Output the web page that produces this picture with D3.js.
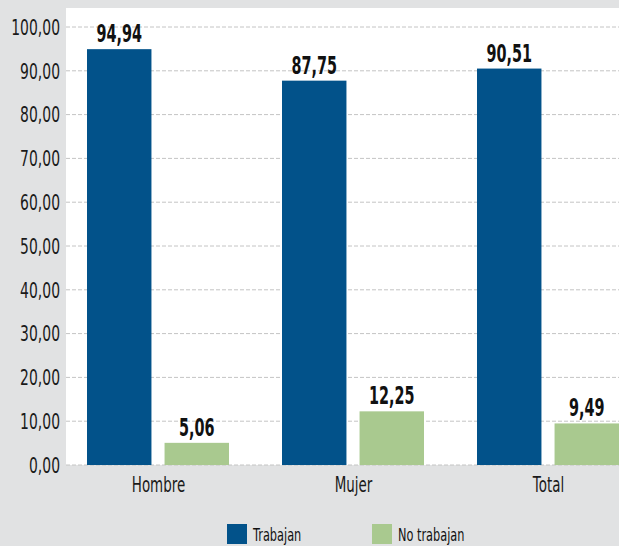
<!DOCTYPE html>
<html>
<head>
<meta charset="utf-8">
<script src="https://cdn.jsdelivr.net/npm/d3@7"></script>
<style>
  body { margin: 0; background: #e1e2e3; }
  svg text { font-family: "DejaVu Sans", sans-serif; }
</style>
</head>
<body>
<svg id="chart" width="619" height="546"></svg>
<script>
const categories = ["Hombre", "Mujer", "Total"];
const series = ["Trabajan", "No trabajan"];
const trabajan = [94.94, 87.75, 90.51];
const noTrabajan = [5.06, 12.25, 9.49];
const yTicks = [0, 10, 20, 30, 40, 50, 60, 70, 80, 90, 100];

const colors = { "Trabajan": "#02528a", "No trabajan": "#a9c98f" };
const fmt = v => d3.format(".2f")(v).replace(".", ",");

// squeeze text horizontally, the original font is a condensed one
function condense(sel, k) {
  sel.each(function () {
    const t = d3.select(this);
    const x = +t.attr("x") || 0;
    const y = +t.attr("y") || 0;
    t.attr("x", null).attr("y", null)
      .attr("transform", `translate(${x},${y}) scale(${k},1)`);
  });
}

const svg = d3.select("#chart");
const plot = { left: 66, top: 8, bottom: 465 };

// white plot panel
svg.append("rect")
  .attr("x", plot.left).attr("y", plot.top)
  .attr("width", 619 - plot.left).attr("height", plot.bottom - plot.top)
  .attr("fill", "#fff");

const y = d3.scaleLinear().domain([0, 100]).range([465, 27]);
const x = d3.scaleBand().domain(categories).range([61, 646]);
const xs = d3.scaleBand().domain(series).range([26, 168]).paddingInner(12 / 142 * 2);

// grid
svg.append("g").selectAll("line")
  .data(yTicks)
  .enter().append("line")
  .attr("x1", plot.left).attr("x2", 619)
  .attr("y1", d => y(d)).attr("y2", d => y(d))
  .attr("stroke", "#c4c4c4").attr("stroke-width", 1)
  .attr("stroke-dasharray", "4,2");

// y axis labels
const yAxis = svg.append("g")
  .attr("transform", "translate(60,0)")
  .call(d3.axisLeft(y).tickValues(yTicks).tickFormat(fmt).tickSize(0).tickPadding(0));
yAxis.select(".domain").remove();
yAxis.selectAll("text").attr("font-size", 20.5).attr("fill", "#1a1a1a")
  .attr("dy", "0.36em")
  .style("font-family", "'DejaVu Sans', sans-serif");
condense(yAxis.selectAll("text"), 0.68);

// x axis labels
const xAxis = svg.append("g")
  .attr("transform", `translate(0,${plot.bottom})`)
  .call(d3.axisBottom(x).tickSize(0).tickPadding(12));
xAxis.select(".domain").remove();
xAxis.selectAll("text").attr("font-size", 21).attr("fill", "#1a1a1a")
  .style("font-family", "'DejaVu Sans', sans-serif");
condense(xAxis.selectAll("text"), 0.64);

const rows = categories.map((c, i) => ({
  cat: c,
  vals: [{ s: "Trabajan", v: trabajan[i] }, { s: "No trabajan", v: noTrabajan[i] }]
}));

const groups = svg.selectAll(".grp")
  .data(rows)
  .enter().append("g")
  .attr("class", "grp")
  .attr("transform", d => `translate(${x(d.cat)},0)`);

groups.selectAll("rect")
  .data(d => d.vals)
  .enter().append("rect")
  .attr("x", d => xs(d.s))
  .attr("width", xs.bandwidth())
  .attr("y", d => y(d.v))
  .attr("height", d => y(0) - y(d.v))
  .attr("fill", d => colors[d.s]);

const vals = groups.selectAll("text.val")
  .data(d => d.vals)
  .enter().append("text")
  .attr("class", "val")
  .attr("x", d => xs(d.s) + xs.bandwidth() / 2)
  .attr("y", d => y(d.v) - 7)
  .attr("text-anchor", "middle")
  .attr("font-size", 24)
  .attr("font-weight", "bold")
  .attr("fill", "#111")
  .text(d => fmt(d.v));
condense(vals, 0.6);

// legend (pulled up a little so the text is not clipped)
const legend = svg.append("g").attr("transform", "translate(227,524)");
const lx = [0, 145];
series.forEach((s, i) => {
  legend.append("rect").attr("x", lx[i]).attr("y", 0).attr("width", 20).attr("height", 20).attr("fill", colors[s]);
  const t = legend.append("text").attr("x", lx[i] + 26).attr("y", 17).attr("font-size", 18).attr("fill", "#111").text(s);
  condense(t, 0.63);
});
</script>
</body>
</html>
